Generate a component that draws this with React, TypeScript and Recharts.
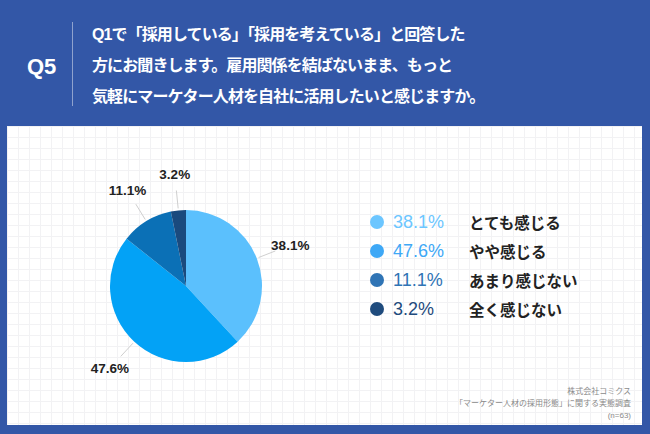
import { PieChart, Pie, Cell } from "recharts"

const labels = ["とても感じる", "やや感じる", "あまり感じない", "全く感じない"]
const values = [38.1, 47.6, 11.1, 3.2]
const sliceColors = ["#5bc0fd", "#03a2f6", "#0b70b6", "#1a4a7e"]
const legendColors = ["#6cc6ff", "#3ea8f6", "#2f74b5", "#1f4b7d"]
const questionLines = [
  "Q1で「採用している」「採用を考えている」と回答した",
  "方にお聞きします。雇用関係を結ばないまま、もっと",
  "気軽にマーケター人材を自社に活用したいと感じますか。",
]
const noteLines = ["株式会社コミクス", "「マーケター人材の採用形態」に関する実態調査", "(n=63)"]

const data = labels.map((name, i) => ({ name, value: values[i] }))

const FONT = '"Liberation Sans", "Noto Sans CJK JP", sans-serif'
const RADIAN = Math.PI / 180

function renderLabel(props: any) {
  const { cx, cy, midAngle, outerRadius, value } = props
  const cos = Math.cos(-midAngle * RADIAN)
  const sin = Math.sin(-midAngle * RADIAN)
  const x1 = cx + (outerRadius + 2) * cos
  const y1 = cy + (outerRadius + 2) * sin
  const x2 = cx + (outerRadius + 20) * cos
  const y2 = cy + (outerRadius + 20) * sin
  const tx = cx + (outerRadius + 36) * cos
  const ty = cy + (outerRadius + 36) * sin
  return (
    <g>
      <line x1={x1} y1={y1} x2={x2} y2={y2} stroke="#cfcfcf" strokeWidth={1} />
      <text
        x={tx}
        y={ty}
        textAnchor="middle"
        dominantBaseline="central"
        fill="#222"
        fontSize={13.5}
        fontWeight={700}
        fontFamily={FONT}
      >
        {value.toFixed(1)}%
      </text>
    </g>
  )
}

export default function App() {
  return (
    <div
      style={{
        position: "absolute",
        left: 0,
        top: 0,
        width: 650,
        height: 434,
        background: "#3357a7",
        fontFamily: FONT,
        overflow: "hidden",
      }}
    >
      <div
        style={{
          position: "absolute",
          left: 27,
          top: 54,
          width: 40,
          color: "#fff",
          fontSize: 22,
          fontWeight: 700,
          lineHeight: "26px",
        }}
      >
        Q5
      </div>
      <div
        style={{
          position: "absolute",
          left: 72,
          top: 22,
          width: 1,
          height: 84,
          background: "rgba(255,255,255,0.45)",
        }}
      />
      <div
        style={{
          position: "absolute",
          left: 92,
          top: 19,
          color: "#fff",
          fontSize: 16,
          fontWeight: 700,
          lineHeight: "31px",
          letterSpacing: -0.9,
          whiteSpace: "nowrap",
        }}
      >
        {questionLines.map((l) => (
          <div key={l}>{l}</div>
        ))}
      </div>

      <div
        style={{
          position: "absolute",
          left: 7,
          top: 126,
          width: 635,
          height: 299,
          backgroundColor: "#fff",
          backgroundImage:
            "linear-gradient(to right, #f2f2f4 1px, transparent 1px), linear-gradient(to bottom, #f2f2f4 1px, transparent 1px)",
          backgroundSize: "11px 11px",
        }}
      />

      <div style={{ position: "absolute", left: 0, top: 0 }}>
        <PieChart width={650} height={434} margin={{ top: 0, right: 0, bottom: 0, left: 0 }}>
          <Pie
            data={data}
            dataKey="value"
            cx={186}
            cy={286}
            outerRadius={76}
            startAngle={90}
            endAngle={-270}
            stroke="none"
            label={renderLabel}
            labelLine={false}
            isAnimationActive={false}
          >
            {data.map((d, i) => (
              <Cell key={d.name} fill={sliceColors[i]} />
            ))}
          </Pie>
        </PieChart>
      </div>

      {data.map((d, i) => (
        <div
          key={d.name}
          style={{
            position: "absolute",
            left: 370,
            top: 212 + i * 29,
            height: 20,
            display: "flex",
            alignItems: "center",
            whiteSpace: "nowrap",
          }}
        >
          <span
            style={{
              width: 14,
              height: 14,
              borderRadius: 7,
              background: legendColors[i],
              display: "inline-block",
            }}
          />
          <span
            style={{
              marginLeft: 9,
              width: 76,
              color: legendColors[i],
              fontSize: 18,
              fontWeight: 500,
            }}
          >
            {d.value.toFixed(1)}%
          </span>
          <span style={{ color: "#222", fontSize: 15.5, fontWeight: 700 }}>{d.name}</span>
        </div>
      ))}

      <div
        style={{
          position: "absolute",
          right: 19,
          top: 386,
          textAlign: "right",
          color: "#8a8a8a",
          fontSize: 8,
          lineHeight: "12px",
          whiteSpace: "nowrap",
        }}
      >
        {noteLines.map((l) => (
          <div key={l}>{l}</div>
        ))}
      </div>
    </div>
  )
}
